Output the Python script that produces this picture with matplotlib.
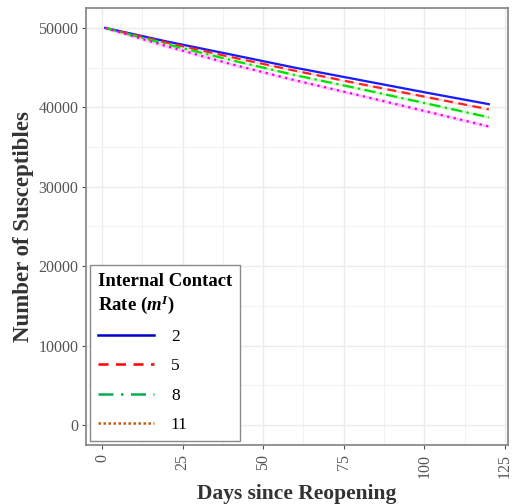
import matplotlib
matplotlib.use('Agg')
import matplotlib.pyplot as plt
from matplotlib.lines import Line2D

plt.rcParams['font.family'] = ['Liberation Serif', 'DejaVu Serif']
plt.rcParams['mathtext.fontset'] = 'custom'
plt.rcParams['mathtext.rm'] = 'Liberation Serif'
plt.rcParams['mathtext.it'] = 'Liberation Serif:italic:bold'
plt.rcParams['mathtext.bf'] = 'Liberation Serif:bold'

# susceptibles over time for each internal contact rate
days = [1, 20, 40, 60, 80, 100, 120]
rates = ['2', '5', '8', '11']
s_2 = [50000, 48300, 46650, 44980, 43440, 41900, 40400]
s_5 = [50000, 48150, 46330, 44600, 42950, 41350, 39750]
s_8 = [50000, 47950, 45950, 44050, 42330, 40550, 38750]
s_11 = [50000, 47700, 45450, 43400, 41500, 39550, 37600]
band = [110, 140, 170, 210]

x_ticks = [0, 25, 50, 75, 100, 125]
y_ticks = [0, 10000, 20000, 30000, 40000, 50000]

series = [s_2, s_5, s_8, s_11]
line_cols = ['#1a1aff', '#ff2020', '#00e000', '#ee00ee']
band_cols = ['#c8c8ff', '#ffc8c8', '#b8f5b8', '#ffb8ff']
styles = ['-', (0, (4, 2.5)), (0, (5, 2, 1, 2)), (0, (1, 2))]

leg_cols = ['#0000cc', '#ff0000', '#00b050', '#c55a11']
leg_styles = ['-', (0, (4, 3)), (0, (6, 3, 1, 3)), (0, (1, 1))]

fig = plt.figure(figsize=(5.23, 5.04), dpi=100)
ax = fig.add_axes([0.1644, 0.1171, 0.8069, 0.867])

for s, w, lc, bc, ls in zip(series, band, line_cols, band_cols, styles):
    ax.fill_between(days, [v - w for v in s], [v + w for v in s],
                    color=bc, alpha=0.7, lw=0)
    ax.plot(days, s, color=lc, ls=ls, lw=1.6)

ax.set_xlim(-4.95, 125.95)
ax.set_ylim(-2500, 52500)
ax.set_xticks(x_ticks)
ax.set_yticks(y_ticks)
ax.set_xticks([12.5, 37.5, 62.5, 87.5, 112.5], minor=True)
ax.set_yticks([5000, 15000, 25000, 35000, 45000], minor=True)
ax.grid(True, which='major', color='#ebebeb', lw=1.0)
ax.grid(True, which='minor', color='#f2f2f2', lw=0.8)
ax.set_axisbelow(True)
ax.tick_params(which='major', length=3, color='#4d4d4d', labelcolor='#555555',
               labelsize=11.5)
ax.tick_params(axis='y', pad=2.5)
ax.tick_params(which='minor', length=0)
plt.setp(ax.get_xticklabels(), rotation=90)
for sp in ax.spines.values():
    sp.set_color('#8a8a8a')
    sp.set_linewidth(1.3)

ax.set_xlabel('Days since Reopening', fontsize=15.5, fontweight='bold',
              color='#333333', labelpad=4)
ax.set_ylabel('Number of Susceptibles', fontsize=16.5, fontweight='bold',
              color='#333333')
ax.yaxis.set_label_coords(-0.123, 0.5)

handles = [Line2D([], [], color=c, ls=ls, lw=1.8)
           for c, ls in zip(leg_cols, leg_styles)]
leg = ax.legend(handles, rates, title='Internal Contact\nRate ($\\mathit{m^I}$)',
                loc='lower left', bbox_to_anchor=(0.01, 0.01), borderaxespad=0,
                fontsize=12.5, title_fontsize=13.5, handlelength=3.2,
                labelspacing=0.75, handletextpad=1.0, borderpad=0.45,
                fancybox=False, framealpha=1, edgecolor='#8a8a8a')
leg.get_title().set_fontweight('bold')
leg._legend_box.align = 'left'
leg.get_frame().set_linewidth(1.0)

fig.savefig('out.png', dpi=100)
